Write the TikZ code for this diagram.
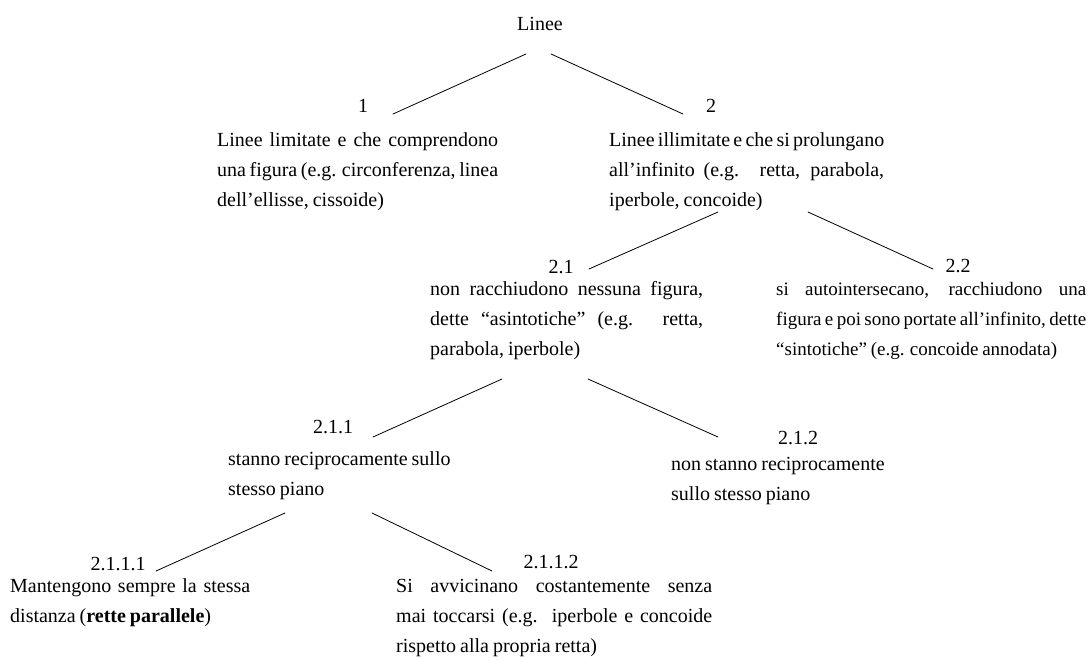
\documentclass[tikz,border=0pt]{standalone}
\usepackage{fontspec}
\setmainfont[WordSpace=0.8]{Liberation Serif}
\begin{document}
\begin{tikzpicture}[line cap=round,line join=round,x=1pt,y=-1pt,
		font=\fontsize{20}{30}\selectfont,
		num/.style={anchor=base,inner sep=0pt},
		txt/.style={anchor=base west,inner sep=0pt,align=justify,text width=#1},
		ramo/.style={line width=0.8pt}]
	\useasboundingbox (0,0) rectangle (1090,661);
	\node[num] (linee) at (540,31) {Linee};
	\node[num] (n1) at (363,113) {1};
	\node[num] (n2) at (711,113) {2};
	\node[txt=281pt] (b1) at (217,146) {Linee limitate e che comprendono\linebreak una figura (e.g. circonferenza, linea\linebreak dell’ellisse, cissoide)};
	\node[txt=275pt] (b2) at (609,146) {Linee illimitate e che si prolungano\linebreak all’infinito (e.g. retta, parabola,\linebreak iperbole, concoide)};
	\node[num] (n21) at (561,273) {2.1};
	\node[num] (n22) at (958,272) {2.2};
	\node[txt=273pt] (b21) at (430,295) {non racchiudono nessuna figura,\linebreak dette “asintotiche” (e.g. retta,\linebreak parabola, iperbole)};
	\node[txt=310pt,font=\fontsize{19}{30}\selectfont] (b22) at (776,295) {si autointersecano, racchiudono una\linebreak figura e poi sono portate all’infinito, dette\linebreak “sintotiche” (e.g. concoide annodata)};
	\node[num] (n211) at (333,433) {2.1.1};
	\node[num] (n212) at (798,444) {2.1.2};
	\node[txt=240pt] (b211) at (228,465) {stanno reciprocamente sullo\\ stesso piano};
	\node[txt=240pt] (b212) at (671,470) {non stanno reciprocamente\\ sullo stesso piano};
	\node[num] (n2111) at (118,570) {2.1.1.1};
	\node[num] (n2112) at (551,568) {2.1.1.2};
	\node[txt=240pt] (b2111) at (10,592) {Mantengono sempre la stessa\linebreak distanza (\textbf{rette parallele})};
	\node[txt=316pt] (b2112) at (396,592) {Si avvicinano costantemente senza\linebreak mai toccarsi (e.g. iperbole e concoide\linebreak rispetto alla propria retta)};
	\draw[ramo] ([shift={(-14,23)}]linee.base) -- ([shift={(30,1)}]n1.base);
	\draw[ramo] ([shift={(11,23)}]linee.base) -- ([shift={(-28,1)}]n2.base);
	\draw[ramo] ([shift={(109,66)}]b2.base west) -- ([shift={(28,-4)}]n21.base);
	\draw[ramo] ([shift={(199,66)}]b2.base west) -- ([shift={(-25,-3)}]n22.base);
	\draw[ramo] ([shift={(72,84)}]b21.base west) -- ([shift={(40,4)}]n211.base);
	\draw[ramo] ([shift={(158,84)}]b21.base west) -- ([shift={(-80,-7)}]n212.base);
	\draw[ramo] ([shift={(57,48)}]b211.base west) -- ([shift={(38,1)}]n2111.base);
	\draw[ramo] ([shift={(144,48)}]b211.base west) -- ([shift={(-59,3)}]n2112.base);
\end{tikzpicture}
\end{document}
